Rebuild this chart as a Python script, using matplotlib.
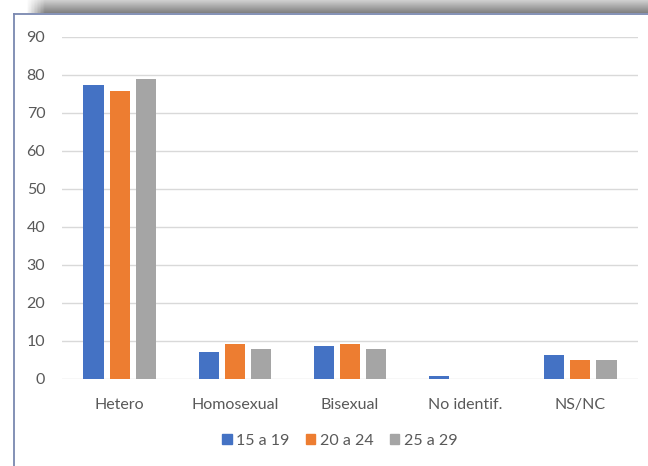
import matplotlib
matplotlib.use("Agg")
import matplotlib.pyplot as plt
import numpy as np
from matplotlib.patches import Patch
from matplotlib.lines import Line2D

categories = ["Hetero", "Homosexual", "Bisexual", "No identif.", "NS/NC"]
series_names = ["15 a 19", "20 a 24", "25 a 29"]
s_15_19 = [77.3, 7.0, 8.6, 0.8, 6.2]
s_20_24 = [75.8, 9.1, 9.3, 0.1, 5.1]
s_25_29 = [78.9, 7.8, 7.8, 0.0, 5.1]
yticks = [0, 10, 20, 30, 40, 50, 60, 70, 80, 90]

colors = ["#4472C4", "#ED7D31", "#A5A5A5"]
txt = "#595959"

plt.rcParams['font.family'] = ['Lato', 'DejaVu Sans']

W, H = 648, 466
fig = plt.figure(figsize=(W / 100, H / 100), dpi=100)

# shadow at top
sh = fig.add_axes([25 / W, (H - 13) / H, (W - 25) / W, 13 / H])
grad = np.linspace(0.82, 0.50, 50).reshape(-1, 1)
img = np.repeat(grad, 200, axis=1)
edge = np.clip(np.linspace(0, 1, 200) / 0.03, 0, 1)
img = 1 - (1 - img) * edge[None, :]
sh.imshow(img, cmap="gray", vmin=0, vmax=1, aspect="auto",
          extent=[0, 1, 0, 1], origin="upper")
sh.axis("off")

# border lines
fig.add_artist(Line2D([13.5 / W, 13.5 / W], [0, (H - 13.5) / H], color="#7a88b0", lw=1.3,
                      transform=fig.transFigure))
fig.add_artist(Line2D([13.5 / W, 1], [(H - 13.5) / H, (H - 13.5) / H], color="#7a88b0", lw=1.3,
                      transform=fig.transFigure))

ax = fig.add_axes([62 / W, (H - 379) / H, (638 - 62) / W, (379 - 37) / H])
x = np.arange(len(categories))
bw = 0.175
step = 0.226
for i, (vals, c, n) in enumerate(zip([s_15_19, s_20_24, s_25_29], colors, series_names)):
    ax.bar(x + (i - 1) * step, vals, width=bw, color=c, label=n, zorder=3)

ax.set_xlim(-0.5, len(categories) - 0.5)
ax.set_ylim(0, 90)
ax.set_yticks(yticks)
ax.set_yticklabels([str(t) for t in yticks])
ax.set_xticks(x)
ax.set_xticklabels(categories)
ax.grid(axis="y", color="#d9d9d9", lw=1, zorder=0)
for s in ax.spines.values():
    s.set_visible(False)
ax.tick_params(axis="both", length=0, colors=txt, labelsize=11.5)
ax.tick_params(axis="y", pad=12)
ax.tick_params(axis="x", pad=14)

handles = [Patch(color=c) for c in colors]
fig.legend(handles, series_names, loc="center", bbox_to_anchor=(340 / W, (H - 441) / H),
           ncol=3, frameon=False, fontsize=11.5, labelcolor=txt, handlelength=0.6,
           handleheight=0.6, handletextpad=0.3, columnspacing=1.0)

fig.savefig("out.png", dpi=100)
